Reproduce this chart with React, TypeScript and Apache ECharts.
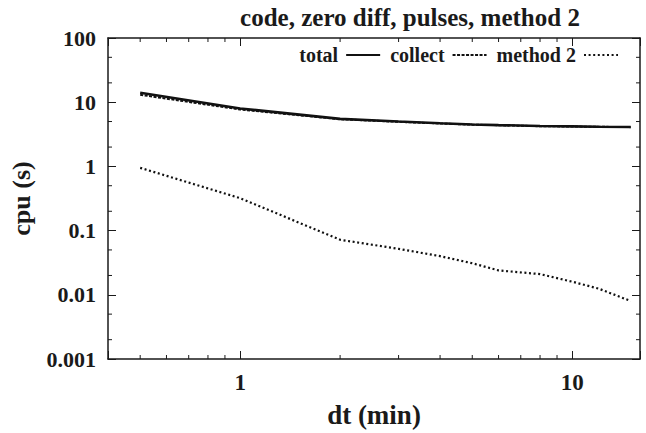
import React, { useEffect, useRef } from "react";
import * as echarts from "echarts";

const dtValues = [0.5, 1, 2, 3, 4, 5, 6, 8, 10, 12, 15];
const totalValues = [14, 8.0, 5.5, 5.0, 4.7, 4.5, 4.4, 4.25, 4.2, 4.15, 4.1];
const collectValues = [13.05, 7.7, 5.43, 4.95, 4.66, 4.47, 4.38, 4.23, 4.18, 4.14, 4.09];
const method2Values = [0.95, 0.32, 0.072, 0.052, 0.04, 0.031, 0.024, 0.021, 0.016, 0.0125, 0.008];

const xTickLabels: Record<number, string> = { 0: "1", 1: "10" };
const yTickLabels: Record<number, string> = { "-3": "0.001", "-2": "0.01", "-1": "0.1", 0: "1", 1: "10", 2: "100" } as any;
const xMinorTicks = [0.5, 0.6, 0.7, 0.8, 0.9, 2, 3, 4, 5, 6, 7, 8, 9];
const yMinorTicks = [0.002, 0.005, 0.02, 0.05, 0.2, 0.5, 2, 5, 20, 50];

const FONT = "'Liberation Serif', 'Times New Roman', serif";
const INK = "#1a1a1a";

function fmt(table: Record<number, string>) {
  return (v: number) => {
    const l = Math.log10(v);
    const r = Math.round(l);
    if (Math.abs(l - r) < 1e-6 && table[r] !== undefined) return table[r];
    return "";
  };
}

export default function App() {
  const ref = useRef<HTMLDivElement>(null);
  useEffect(() => {
    if (!ref.current) return;
    const chart = echarts.init(ref.current, undefined, { renderer: "svg" });
    const pair = (ys: number[]) => dtValues.map((x, i) => [x, ys[i]]);
    const axisCommon = {
      type: "log" as const,
      logBase: 10,
      splitLine: { show: false },
      axisLine: { show: true, lineStyle: { color: INK, width: 1.5 } },
      axisTick: { show: true, inside: true, length: 8, lineStyle: { color: INK, width: 1 } },
    };
    chart.setOption({
      animation: false,
      title: {
        text: "code, zero diff, pulses, method 2",
        left: 405,
        textAlign: "center",
        top: 0,
        textStyle: { fontFamily: FONT, fontWeight: "bold", fontSize: 25, color: INK },
      },
      legend: {
        data: ["total", "collect", "method 2"],
        right: 22,
        top: 40,
        align: "right",
        itemWidth: 34,
        itemHeight: 12,
        itemGap: 9,
        itemStyle: { opacity: 0 },
        textStyle: { fontFamily: FONT, fontWeight: "bold", fontSize: 20, color: INK, padding: [0, 3, 0, 0] },
      },
      grid: { left: 107, right: 6, top: 38, bottom: 61 },
      xAxis: [
        {
          ...axisCommon,
          min: 0.4,
          max: 16,
          position: "bottom",
          name: "dt (min)",
          nameLocation: "middle",
          nameGap: 42,
          nameTextStyle: { fontFamily: FONT, fontWeight: "bold", fontSize: 27, color: INK },
          axisLabel: { formatter: fmt(xTickLabels), fontFamily: FONT, fontWeight: "bold", fontSize: 23, color: INK, margin: 12 },
        },
        {
          ...axisCommon,
          min: 0.4,
          max: 16,
          position: "top",
          axisLabel: { show: false },
        },
      ],
      yAxis: [
        {
          ...axisCommon,
          min: 0.001,
          max: 100,
          position: "left",
          name: "cpu (s)",
          nameLocation: "middle",
          nameGap: 74,
          nameTextStyle: { fontFamily: FONT, fontWeight: "bold", fontSize: 26, color: INK },
          axisLabel: { formatter: fmt(yTickLabels), fontFamily: FONT, fontWeight: "bold", fontSize: 22, color: INK, margin: 12 },
        },
        {
          ...axisCommon,
          min: 0.001,
          max: 100,
          position: "right",
          axisLabel: { show: false },
        },
      ],
      series: [
        {
          name: "total",
          type: "line",
          data: pair(totalValues),
          symbol: "none",
          lineStyle: { color: "#111", width: 2.6, type: "solid" },
          itemStyle: { color: "#111" },
          z: 3,
        },
        {
          name: "collect",
          type: "line",
          data: pair(collectValues),
          symbol: "none",
          lineStyle: { color: "#111", width: 2, type: [3, 1.5] },
          itemStyle: { color: "#111" },
          z: 2,
        },
        {
          name: "method 2",
          type: "line",
          data: pair(method2Values),
          symbol: "none",
          lineStyle: { color: "#111", width: 2.2, type: [2, 2.6] },
          itemStyle: { color: "#111" },
          z: 2,
        },
        {
          type: "custom",
          silent: true,
          clip: false,
          data: xMinorTicks.map((v) => [v, 1]),
          renderItem: (params: any, api: any) => {
            const cs = params.coordSys;
            const x = api.coord([api.value(0), 1])[0];
            const st = { stroke: INK, lineWidth: 1 };
            return {
              type: "group",
              children: [
                { type: "line", shape: { x1: x, y1: cs.y + cs.height, x2: x, y2: cs.y + cs.height - 4 }, style: st },
                { type: "line", shape: { x1: x, y1: cs.y, x2: x, y2: cs.y + 4 }, style: st },
              ],
            };
          },
        },
        {
          type: "custom",
          silent: true,
          clip: false,
          data: yMinorTicks.map((v) => [1, v]),
          renderItem: (params: any, api: any) => {
            const cs = params.coordSys;
            const y = api.coord([1, api.value(1)])[1];
            const st = { stroke: INK, lineWidth: 1 };
            return {
              type: "group",
              children: [
                { type: "line", shape: { x1: cs.x, y1: y, x2: cs.x + 4, y2: y }, style: st },
                { type: "line", shape: { x1: cs.x + cs.width, y1: y, x2: cs.x + cs.width - 4, y2: y }, style: st },
              ],
            };
          },
        },
      ],
    });
    return () => chart.dispose();
  }, []);
  return <div ref={ref} style={{ width: 646, height: 433, position: "absolute", left: 0, top: 0, background: "#fff" }} />;
}
